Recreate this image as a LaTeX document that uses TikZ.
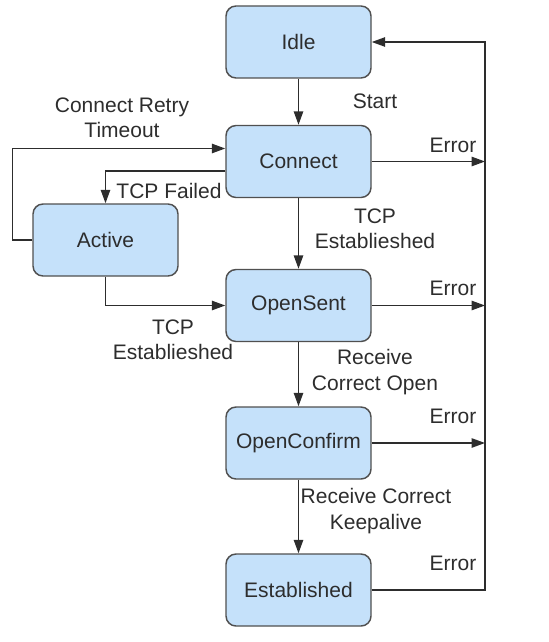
\documentclass[tikz,border=0pt]{standalone}
\usepackage{fontspec}
\setmainfont{Liberation Sans}
\usetikzlibrary{arrows.meta}
\definecolor{statefill}{RGB}{197,225,250}
\definecolor{stateline}{RGB}{80,80,80}
\definecolor{ink}{RGB}{45,45,45}
\begin{document}
\begin{tikzpicture}[x=0.75pt, y=-0.75pt,
  state/.style={draw=stateline, fill=statefill, line width=1.1pt, rounded corners=7.5pt,
    minimum width=108.75pt, minimum height=54pt, text=ink, font=\fontsize{15.75}{18.75}\selectfont},
  lbl/.style={text=ink, align=center, inner sep=0pt, font=\fontsize{15.75}{19}\selectfont},
  flow/.style={-{Triangle[length=10pt, width=7pt]}, draw=ink, line width=1.1pt}]
\useasboundingbox (0,0) rectangle (549,642);

% States
\node[state] (idle) at (298.5,42) {Idle};
\node[state] (connect) at (298.5,161.5) {Connect};
\node[state] (active) at (105.5,240) {Active};
\node[state] (opensent) at (298.5,305.5) {OpenSent};
\node[state] (openconfirm) at (298.5,443) {OpenConfirm};
\node[state] (established) at (298.5,590) {Established};
\coordinate (bus) at (485,0);

% Main path
\draw[flow] (idle) -- (connect);
\draw[flow] (connect) -- (opensent);
\draw[flow] (opensent) -- (openconfirm);
\draw[flow] (openconfirm) -- (established);

% Active loop
\draw[flow] (active.west) -- ++(-20,0) |- ([yshift=9.75pt]connect.west);
\draw[flow] ([yshift=-7pt]connect.west) -| (active);
\draw[flow] (active) |- (opensent);

% Errors back to Idle
\draw[flow] (connect) -- (connect -| bus);
\draw[flow] (opensent) -- (opensent -| bus);
\draw[flow] (openconfirm) -- (openconfirm -| bus);
\draw[flow] (established) -- (established -| bus) -- (idle -| bus) -- (idle);

% Labels
\node[lbl] (lstart) at (375,101) {Start};
\node[lbl] (lretry) at (122,118) {Connect Retry\\Timeout};
\node[lbl] (lfailed) at (169,191) {TCP Failed};
\node[lbl] (ltcpa) at (375,229) {TCP\\Establieshed};
\node[lbl] (ltcpb) at (173,340) {TCP\\Establieshed};
\node[lbl] (lopen) at (375,372) {Receive\\Correct Open};
\node[lbl] (lkeep) at (376,511) {Receive Correct\\Keepalive};
\node[lbl] (err1) at (453,145) {Error};
\node[lbl] (err2) at (453,288) {Error};
\node[lbl] (err3) at (453,416) {Error};
\node[lbl] (err4) at (453,563) {Error};
\end{tikzpicture}
\end{document}
